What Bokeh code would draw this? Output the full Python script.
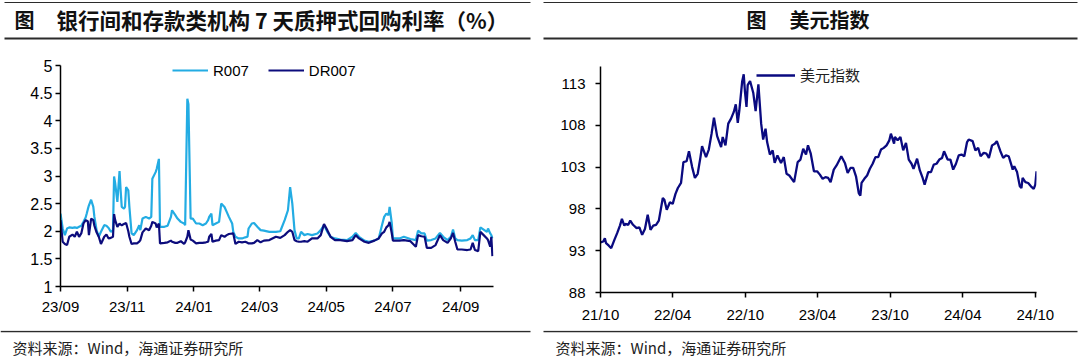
import datetime as dt
from bokeh.plotting import figure
from bokeh.models import (Range1d, FixedTicker, Legend, LegendItem, Label,
                          NumeralTickFormatter)
from bokeh.layouts import row, column
from bokeh.embed import file_html
from bokeh.resources import INLINE

# ---------------- data ----------------
repo_dates = [
    "2023-09-01", "2023-09-03", "2023-09-05", "2023-09-07", "2023-09-09", "2023-09-12",
    "2023-09-14", "2023-09-16", "2023-09-18", "2023-09-20", "2023-09-22", "2023-09-24",
    "2023-09-25", "2023-09-26", "2023-09-27", "2023-09-29", "2023-10-01", "2023-10-02",
    "2023-10-04", "2023-10-06", "2023-10-08", "2023-10-11", "2023-10-13", "2023-10-15",
    "2023-10-17", "2023-10-19", "2023-10-20", "2023-10-21", "2023-10-23", "2023-10-25",
    "2023-10-26", "2023-10-27", "2023-10-29", "2023-10-30", "2023-10-31", "2023-11-02",
    "2023-11-03", "2023-11-05", "2023-11-07", "2023-11-10", "2023-11-12", "2023-11-13",
    "2023-11-15", "2023-11-18", "2023-11-21", "2023-11-23", "2023-11-24", "2023-11-27",
    "2023-11-28", "2023-11-30", "2023-12-01", "2023-12-05", "2023-12-08", "2023-12-11",
    "2023-12-12", "2023-12-15", "2023-12-17", "2023-12-20", "2023-12-23", "2023-12-24",
    "2023-12-26", "2023-12-27", "2023-12-29", "2023-12-31", "2024-01-03", "2024-01-06",
    "2024-01-09", "2024-01-12", "2024-01-14", "2024-01-15", "2024-01-17", "2024-01-18",
    "2024-01-21", "2024-01-24", "2024-01-26", "2024-01-29", "2024-01-31", "2024-02-02",
    "2024-02-05", "2024-02-06", "2024-02-08", "2024-02-11", "2024-02-14", "2024-02-17",
    "2024-02-19", "2024-02-20", "2024-02-23", "2024-02-25", "2024-02-28", "2024-03-02",
    "2024-03-05", "2024-03-10", "2024-03-16", "2024-03-20", "2024-03-24", "2024-03-27",
    "2024-03-29", "2024-03-31", "2024-04-02", "2024-04-04", "2024-04-06", "2024-04-08",
    "2024-04-11", "2024-04-14", "2024-04-18", "2024-04-23", "2024-04-26", "2024-04-29",
    "2024-05-02", "2024-05-05", "2024-05-09", "2024-05-14", "2024-05-20", "2024-05-25",
    "2024-05-28", "2024-05-31", "2024-06-05", "2024-06-09", "2024-06-14", "2024-06-18",
    "2024-06-21", "2024-06-23", "2024-06-25", "2024-06-27", "2024-06-28", "2024-06-30",
    "2024-07-01", "2024-07-07", "2024-07-11", "2024-07-17", "2024-07-22", "2024-07-24",
    "2024-07-27", "2024-07-30", "2024-08-01", "2024-08-05", "2024-08-09", "2024-08-13",
    "2024-08-16", "2024-08-20", "2024-08-23", "2024-08-25", "2024-08-27", "2024-08-29",
    "2024-09-02", "2024-09-07", "2024-09-10", "2024-09-12", "2024-09-14", "2024-09-17",
    "2024-09-19", "2024-09-22", "2024-09-25", "2024-09-26", "2024-09-28", "2024-09-29",
    "2024-09-30",
]
r007 = [
    2.32, 2.05, 1.93, 2.05, 2.07, 2.06, 2.07, 2.06, 2.08, 2.10, 2.17, 2.25,
    2.32, 2.40, 2.47, 2.57, 2.44, 2.26, 2.02, 1.90, 1.99, 2.11, 2.10, 2.06,
    1.99, 2.02, 2.99, 2.87, 2.53, 3.09, 2.74, 2.44, 2.41, 2.44, 2.80, 2.74,
    2.44, 1.96, 1.93, 2.02, 2.11, 2.02, 2.23, 2.26, 2.23, 2.26, 2.95, 3.07,
    3.13, 3.31, 2.08, 2.08, 2.10, 2.26, 2.38, 2.29, 2.23, 2.17, 2.14, 2.11,
    4.40, 4.30, 2.23, 2.23, 2.14, 2.14, 2.11, 2.14, 2.20, 2.26, 2.32, 2.11,
    2.14, 2.17, 2.50, 2.44, 2.35, 2.26, 2.14, 1.99, 1.90, 1.87, 1.87, 1.89,
    1.90, 2.05, 2.14, 2.15, 2.08, 2.02, 2.01, 1.99, 1.99, 2.00, 2.20, 2.38,
    2.80, 2.50, 2.02, 1.87, 1.87, 1.99, 1.93, 1.95, 1.93, 1.96, 2.02, 2.11,
    1.99, 1.90, 1.87, 1.85, 1.84, 1.90, 1.97, 1.90, 1.83, 1.81, 1.83, 1.87,
    2.11, 2.26, 2.32, 2.29, 2.44, 2.14, 1.87, 1.87, 1.90, 1.86, 1.84, 2.01,
    1.96, 1.96, 1.83, 1.84, 1.87, 1.97, 1.90, 1.84, 1.90, 2.03, 1.87, 1.84,
    1.83, 1.84, 1.87, 1.93, 1.84, 1.84, 2.07, 2.03, 1.99, 2.05, 1.96, 1.93,
    1.87,
]
dr007 = [
    2.20, 1.81, 1.77, 1.75, 1.90, 1.94, 1.90, 1.99, 1.90, 1.96, 2.14, 2.20,
    2.19, 2.18, 1.93, 2.23, 2.20, 2.10, 1.98, 1.90, 1.77, 1.90, 1.94, 1.87,
    1.88, 1.90, 2.31, 2.20, 2.08, 2.14, 2.12, 2.11, 2.13, 2.14, 2.15, 2.00,
    1.90, 1.77, 1.78, 1.78, 1.81, 1.84, 1.98, 2.05, 2.02, 2.10, 2.17, 2.14,
    2.07, 2.14, 1.78, 1.79, 1.80, 1.83, 1.81, 1.79, 1.79, 1.82, 1.77, 1.80,
    1.90, 2.02, 1.85, 1.83, 1.78, 1.79, 1.79, 1.80, 1.81, 1.90, 1.95, 1.81,
    1.83, 1.84, 1.93, 1.90, 1.93, 1.95, 1.96, 1.96, 1.77, 1.81, 1.80, 1.81,
    1.79, 1.78, 1.78, 1.79, 1.84, 1.80, 1.83, 1.84, 1.90, 1.88, 1.93, 1.99,
    2.02, 1.99, 1.84, 1.82, 1.81, 1.81, 1.82, 1.81, 1.87, 1.87, 1.93, 2.13,
    2.02, 1.90, 1.84, 1.84, 1.82, 1.84, 1.93, 1.87, 1.81, 1.79, 1.83, 1.87,
    1.96, 1.99, 2.07, 2.11, 2.17, 1.96, 1.83, 1.83, 1.84, 1.82, 1.72, 1.93,
    1.91, 1.90, 1.70, 1.70, 1.75, 1.93, 1.84, 1.79, 1.87, 1.97, 1.81, 1.67,
    1.67, 1.66, 1.67, 1.79, 1.66, 1.64, 1.99, 1.93, 1.87, 1.84, 1.72, 1.90,
    1.55,
]
repo_xticks = ["23/09", "23/11", "24/01", "24/03", "24/05", "24/07", "24/09"]
repo_yticks = [1, 1.5, 2, 2.5, 3, 3.5, 4, 4.5, 5]

dxy_dates = [
    "2021-10-01", "2021-10-08", "2021-10-12", "2021-10-15", "2021-10-22", "2021-10-28",
    "2021-11-05", "2021-11-12", "2021-11-19", "2021-11-24", "2021-11-30", "2021-12-03",
    "2021-12-10", "2021-12-15", "2021-12-22", "2021-12-31", "2022-01-07", "2022-01-14",
    "2022-01-21", "2022-01-28", "2022-02-04", "2022-02-11", "2022-02-18", "2022-02-25",
    "2022-03-07", "2022-03-11", "2022-03-17", "2022-03-25", "2022-04-01", "2022-04-08",
    "2022-04-14", "2022-04-22", "2022-04-28", "2022-05-06", "2022-05-12", "2022-05-20",
    "2022-05-27", "2022-06-03", "2022-06-10", "2022-06-14", "2022-06-24", "2022-07-01",
    "2022-07-08", "2022-07-14", "2022-07-22", "2022-08-01", "2022-08-05", "2022-08-12",
    "2022-08-19", "2022-08-26", "2022-09-02", "2022-09-07", "2022-09-12", "2022-09-16",
    "2022-09-23", "2022-09-27", "2022-09-30", "2022-10-04", "2022-10-07", "2022-10-13",
    "2022-10-21", "2022-10-27", "2022-11-03", "2022-11-10", "2022-11-15", "2022-11-21",
    "2022-11-25", "2022-12-02", "2022-12-09", "2022-12-14", "2022-12-21", "2022-12-30",
    "2023-01-06", "2023-01-13", "2023-01-20", "2023-02-01", "2023-02-10", "2023-02-17",
    "2023-02-24", "2023-03-03", "2023-03-08", "2023-03-15", "2023-03-23", "2023-03-31",
    "2023-04-07", "2023-04-14", "2023-04-21", "2023-04-28", "2023-05-04", "2023-05-12",
    "2023-05-19", "2023-05-31", "2023-06-09", "2023-06-16", "2023-06-23", "2023-06-30",
    "2023-07-07", "2023-07-14", "2023-07-18", "2023-07-21", "2023-07-28", "2023-08-04",
    "2023-08-11", "2023-08-18", "2023-08-25", "2023-09-01", "2023-09-08", "2023-09-15",
    "2023-09-22", "2023-09-29", "2023-10-03", "2023-10-11", "2023-10-13", "2023-10-20",
    "2023-10-27", "2023-11-03", "2023-11-10", "2023-11-17", "2023-11-24", "2023-11-29",
    "2023-12-08", "2023-12-15", "2023-12-22", "2023-12-27", "2024-01-05", "2024-01-12",
    "2024-01-19", "2024-01-26", "2024-02-02", "2024-02-09", "2024-02-14", "2024-02-23",
    "2024-03-01", "2024-03-08", "2024-03-15", "2024-03-22", "2024-03-29", "2024-04-05",
    "2024-04-12", "2024-04-16", "2024-04-26", "2024-05-03", "2024-05-10", "2024-05-16",
    "2024-05-24", "2024-05-31", "2024-06-06", "2024-06-14", "2024-06-21", "2024-06-26",
    "2024-07-05", "2024-07-12", "2024-07-19", "2024-07-26", "2024-08-02", "2024-08-05",
    "2024-08-09", "2024-08-16", "2024-08-23", "2024-08-27", "2024-08-30", "2024-09-06",
    "2024-09-13", "2024-09-20", "2024-09-27", "2024-10-01", "2024-10-04",
]
dxy = [
    94.0, 94.1, 94.5, 93.9, 93.6, 93.3, 94.3, 95.1, 96.0, 96.8, 96.0, 96.2,
    96.1, 96.6, 96.1, 95.7, 95.8, 94.9, 95.6, 97.3, 95.5, 96.0, 96.1, 96.6,
    99.3, 99.1, 97.9, 98.8, 98.6, 99.8, 100.5, 101.1, 103.6, 103.7, 104.9, 103.0,
    101.7, 102.2, 104.2, 105.5, 104.2, 105.1, 107.0, 108.9, 106.7, 105.4, 106.6, 105.6,
    108.2, 108.8, 109.6, 110.5, 108.3, 109.8, 113.2, 114.1, 112.1, 110.2, 112.8, 113.3,
    111.9, 109.7, 112.9, 108.2, 106.3, 107.6, 106.0, 104.5, 105.0, 103.5, 104.4, 103.5,
    104.2, 102.2, 102.0, 101.2, 103.6, 103.9, 105.2, 104.5, 105.6, 104.6, 102.5, 102.5,
    102.1, 101.6, 101.8, 101.7, 101.2, 102.7, 103.2, 104.3, 103.5, 102.3, 102.9, 102.9,
    101.9, 99.9, 99.6, 101.1, 101.6, 102.0, 102.8, 103.4, 104.2, 104.2, 105.1, 105.3,
    105.6, 106.2, 107.0, 105.8, 106.6, 106.2, 106.6, 105.0, 105.9, 103.9, 103.4, 102.8,
    104.0, 102.6, 101.7, 100.9, 102.4, 102.4, 103.3, 103.4, 103.9, 104.1, 104.9, 103.9,
    103.9, 102.7, 103.4, 104.4, 104.5, 104.3, 106.0, 106.3, 106.1, 105.0, 105.3, 104.3,
    104.7, 104.6, 104.1, 105.6, 105.8, 106.1, 104.9, 104.1, 104.4, 104.3, 103.2, 102.7,
    103.1, 102.4, 100.7, 100.5, 101.7, 101.2, 101.1, 100.7, 100.4, 100.9, 102.5,
]
dxy_xticks = ["21/10", "22/04", "22/10", "23/04", "23/10", "24/04", "24/10"]
dxy_yticks = [88, 93, 98, 103, 108, 113]

left_title = "银行间和存款类机构 7 天质押式回购利率（%）"
right_title = "美元指数"
source_text = "资料来源：Wind，海通证券研究所"

# ---------------- helpers ----------------
EPOCH = dt.datetime(1970, 1, 1)


def ms(d):
    return (d - EPOCH).total_seconds() * 1000.0


def ms_date(s):
    return ms(dt.datetime.strptime(s, "%Y-%m-%d"))


def ms_tick(s):
    return ms(dt.datetime.strptime(s, "%y/%m"))


CJK = "Noto Sans CJK SC"
LAT = "Liberation Sans"
RULE = "#2b2b2b"
HDR_H = 40                 # header strip: page y 0..40
PH = 290                   # chart panels: page y 40..330
FTR_H = 362 - HDR_H - PH   # footer strip: page y 330..362
PW = 540
FR_TOP = 46                # frame top (page y) for both charts


def make_fig(xstart, xend, y0, y1, mbl, mbr, frame_bottom):
    p = figure(width=PW, height=PH, x_axis_type="datetime",
               x_range=Range1d(xstart, xend), y_range=Range1d(y0, y1),
               output_backend="svg", toolbar_location=None,
               min_border_left=mbl, min_border_right=mbr,
               min_border_top=FR_TOP - HDR_H,
               min_border_bottom=HDR_H + PH - frame_bottom)
    p.outline_line_color = None
    p.grid.visible = False
    p.background_fill_color = "white"
    p.border_fill_color = "white"
    for ax in (p.xaxis[0], p.yaxis[0]):
        ax.axis_line_color = "black"
        ax.axis_line_width = 1.5
        ax.major_tick_line_color = "black"
        ax.major_tick_line_width = 1.5
        ax.major_tick_out = 5
        ax.major_tick_in = 0
        ax.minor_tick_line_color = None
        ax.major_label_text_font = LAT
        ax.major_label_text_font_size = "15px"
        ax.major_label_text_color = "black"
    return p


def strip(h):
    s = figure(width=1080, height=h, x_range=Range1d(0, 1080), y_range=Range1d(h, 0),
               output_backend="svg", toolbar_location=None,
               x_axis_location=None, y_axis_location=None, min_border=0)
    s.outline_line_color = None
    s.grid.visible = False
    s.background_fill_color = "white"
    s.border_fill_color = "white"
    return s


def strip_text(s, x, y, text, size, bold=False, color="#111111"):
    s.add_layout(Label(x=x, y=y, text=text, text_font=CJK, text_font_size=f"{size}px",
                       text_font_style="bold" if bold else "normal",
                       text_align="left", text_baseline="middle", text_color=color))


# ---------------- header strip ----------------
hdr = strip(HDR_H)
hdr.segment(x0=[4, 543], y0=[2, 2], x1=[530, 1077], y1=[2, 2],
            line_color=RULE, line_width=1)
hdr.segment(x0=[4, 543], y0=[38, 38], x1=[530, 1077], y1=[38, 38],
            line_color=RULE, line_width=2.2)
strip_text(hdr, 14, 19, "图", 20, bold=True)
strip_text(hdr, 56, 19, left_title, 21.5, bold=True)
strip_text(hdr, 746, 19, "图", 20, bold=True)
strip_text(hdr, 789, 19, right_title, 20, bold=True)

# ---------------- left chart ----------------
# value axis from 1 (page y 286) to 5 (page y 65)
L_BOT = 286
L_PX = (L_BOT - 65) / 4.0
p1 = make_fig(ms_date("2023-09-01"), ms_date("2024-10-01"),
              1, 5 + (65 - FR_TOP) / L_PX, 60, 47, L_BOT)
xs1 = [ms_date(d) for d in repo_dates]
l1 = p1.line(xs1, r007, line_color="#23ACE3", line_width=2.2)
l2 = p1.line(xs1, dr007, line_color="#0C0C7C", line_width=2.2)
t1 = [ms_tick(t) for t in repo_xticks]
p1.xaxis[0].ticker = FixedTicker(ticks=t1)
p1.xaxis[0].major_label_overrides = {v: lab for v, lab in zip(t1, repo_xticks)}
p1.xaxis[0].major_label_standoff = 6
p1.yaxis[0].ticker = FixedTicker(ticks=repo_yticks)
p1.yaxis[0].bounds = (1, 5)
p1.yaxis[0].formatter = NumeralTickFormatter(format="0.[0]")
p1.yaxis[0].major_label_standoff = 3
p1.yaxis[0].major_label_text_font_size = "16px"

leg1 = Legend(items=[LegendItem(label="R007", renderers=[l1]),
                     LegendItem(label="DR007", renderers=[l2])],
              location=(112, 207), orientation="horizontal",
              background_fill_alpha=0, border_line_color=None,
              padding=0, margin=0, spacing=19, glyph_width=36, glyph_height=18,
              label_height=18, label_standoff=5,
              label_text_font=LAT, label_text_font_size="15px",
              label_text_color="black")
p1.add_layout(leg1)

# ---------------- right chart ----------------
# value axis from 88 (page y 292) to 115 (page y 66); 113 at page y 83
R_BOT = 292
R_PX = (R_BOT - 83) / 25.0
p2 = make_fig(ms_date("2021-10-01"), ms_date("2024-10-04"),
              88, 113 + (83 - FR_TOP) / R_PX, 60, 44, R_BOT)
xs2 = [ms_date(d) for d in dxy_dates]
l3 = p2.line(xs2, dxy, line_color="#0A0A80", line_width=2.3)
t2 = [ms_tick(t) for t in dxy_xticks]
p2.xaxis[0].ticker = FixedTicker(ticks=t2)
p2.xaxis[0].major_label_overrides = {v: lab for v, lab in zip(t2, dxy_xticks)}
p2.xaxis[0].major_label_standoff = 8
p2.yaxis[0].ticker = FixedTicker(ticks=dxy_yticks)
p2.yaxis[0].bounds = (88, 115)
p2.yaxis[0].major_label_standoff = 10

leg2 = Legend(items=[LegendItem(label=right_title, renderers=[l3])],
              location=(156, 207), orientation="horizontal",
              background_fill_alpha=0, border_line_color=None,
              padding=0, margin=0, glyph_width=39, glyph_height=18,
              label_height=18, label_standoff=5,
              label_text_font=CJK, label_text_font_size="15px",
              label_text_color="#222222")
p2.add_layout(leg2)

# ---------------- footer strip ----------------
ftr = strip(FTR_H)
ftr.segment(x0=[0, 543], y0=[1, 1], x1=[530, 1077], y1=[1, 1],
            line_color=RULE, line_width=1.6)
strip_text(ftr, 12, 17, source_text, 15, color="#222222")
strip_text(ftr, 555, 17, source_text, 15, color="#222222")

charts = row(column(p1), column(p2), spacing=0)
layout = column(hdr, charts, ftr, spacing=0)
open("out.html", "w").write(file_html(layout, INLINE))
